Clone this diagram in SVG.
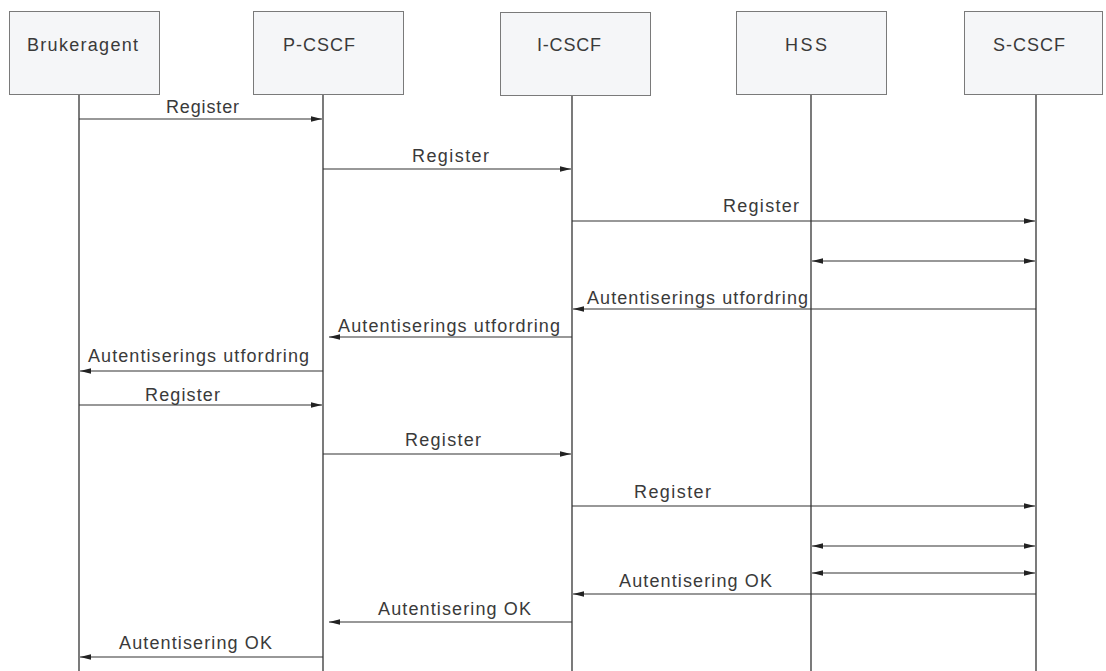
<svg xmlns="http://www.w3.org/2000/svg" width="1106" height="671" viewBox="0 0 1106 671">
<style>
.box{fill:#f5f6f8;stroke:#7a7a7a;stroke-width:1}
.life{stroke:#333;stroke-width:1.3}
.msg{stroke:#333;stroke-width:1.2;fill:none}
.t{font-family:"Liberation Sans",Arial,sans-serif;font-size:18px;fill:#3a3a3a}
</style>
<defs>
<marker id="ah" viewBox="0 0 11 7" refX="11" refY="3.5" markerWidth="11" markerHeight="7" markerUnits="userSpaceOnUse" orient="auto-start-reverse">
<path d="M0,0.8 L11,3.5 L0,6.2 z" fill="#222"/>
</marker>
</defs>
<rect width="1106" height="671" fill="#fff"/>
<g id="node-brukeragent">
<rect class="box" x="9.5" y="11.5" width="150" height="83"/>
<text class="t" x="82.5" y="51" text-anchor="middle" textLength="111" lengthAdjust="spacing">Brukeragent</text>
<line class="life" x1="79" y1="95" x2="79" y2="671"/>
</g>
<g id="node-pcscf">
<rect class="box" x="253.5" y="11.5" width="150" height="83"/>
<text class="t" x="319" y="51" text-anchor="middle" textLength="72" lengthAdjust="spacing">P-CSCF</text>
<line class="life" x1="323" y1="95" x2="323" y2="671"/>
</g>
<g id="node-icscf">
<rect class="box" x="500.5" y="12.5" width="150" height="83"/>
<text class="t" x="569" y="51" text-anchor="middle" textLength="64" lengthAdjust="spacing">I-CSCF</text>
<line class="life" x1="572" y1="96" x2="572" y2="671"/>
</g>
<g id="node-hss">
<rect class="box" x="736.5" y="11.5" width="150" height="83"/>
<text class="t" x="806" y="51" text-anchor="middle" textLength="42" lengthAdjust="spacing">HSS</text>
<line class="life" x1="811" y1="95" x2="811" y2="671"/>
</g>
<g id="node-scscf">
<rect class="box" x="964.5" y="11.5" width="138" height="83"/>
<text class="t" x="1029" y="51" text-anchor="middle" textLength="72" lengthAdjust="spacing">S-CSCF</text>
<line class="life" x1="1036" y1="95" x2="1036" y2="671"/>
</g>
<g id="connectors">
<line class="msg" x1="79" y1="119" x2="322" y2="119" marker-end="url(#ah)"/>
<text class="t" x="166" y="113" textLength="73" lengthAdjust="spacing">Register</text>

<line class="msg" x1="323" y1="169" x2="571" y2="169" marker-end="url(#ah)"/>
<text class="t" x="412" y="162" textLength="77" lengthAdjust="spacing">Register</text>

<line class="msg" x1="572" y1="221" x2="1035" y2="221" marker-end="url(#ah)"/>
<text class="t" x="723" y="212" textLength="76" lengthAdjust="spacing">Register</text>

<line class="msg" x1="812" y1="261" x2="1035" y2="261" marker-start="url(#ah)" marker-end="url(#ah)"/>

<line class="msg" x1="1036" y1="309" x2="573" y2="309" marker-end="url(#ah)"/>
<text class="t" x="587" y="304" textLength="221" lengthAdjust="spacing">Autentiserings utfordring</text>

<line class="msg" x1="572" y1="337" x2="329" y2="337" marker-end="url(#ah)"/>
<text class="t" x="338" y="332" textLength="222" lengthAdjust="spacing">Autentiserings utfordring</text>

<line class="msg" x1="323" y1="371" x2="80" y2="371" marker-end="url(#ah)"/>
<text class="t" x="88" y="362" textLength="221" lengthAdjust="spacing">Autentiserings utfordring</text>

<line class="msg" x1="79" y1="405" x2="322" y2="405" marker-end="url(#ah)"/>
<text class="t" x="145" y="401" textLength="75" lengthAdjust="spacing">Register</text>

<line class="msg" x1="323" y1="454" x2="571" y2="454" marker-end="url(#ah)"/>
<text class="t" x="405" y="446" textLength="76" lengthAdjust="spacing">Register</text>

<line class="msg" x1="572" y1="506" x2="1035" y2="506" marker-end="url(#ah)"/>
<text class="t" x="634" y="498" textLength="77" lengthAdjust="spacing">Register</text>

<line class="msg" x1="812" y1="546" x2="1035" y2="546" marker-start="url(#ah)" marker-end="url(#ah)"/>
<line class="msg" x1="812" y1="573" x2="1035" y2="573" marker-start="url(#ah)" marker-end="url(#ah)"/>

<line class="msg" x1="1036" y1="594" x2="573" y2="594" marker-end="url(#ah)"/>
<text class="t" x="619" y="587" textLength="153" lengthAdjust="spacing">Autentisering OK</text>

<line class="msg" x1="572" y1="622" x2="329" y2="622" marker-end="url(#ah)"/>
<text class="t" x="378" y="615" textLength="153" lengthAdjust="spacing">Autentisering OK</text>

<line class="msg" x1="323" y1="657" x2="80" y2="657" marker-end="url(#ah)"/>
<text class="t" x="119" y="649" textLength="153" lengthAdjust="spacing">Autentisering OK</text>
</g>
</svg>
